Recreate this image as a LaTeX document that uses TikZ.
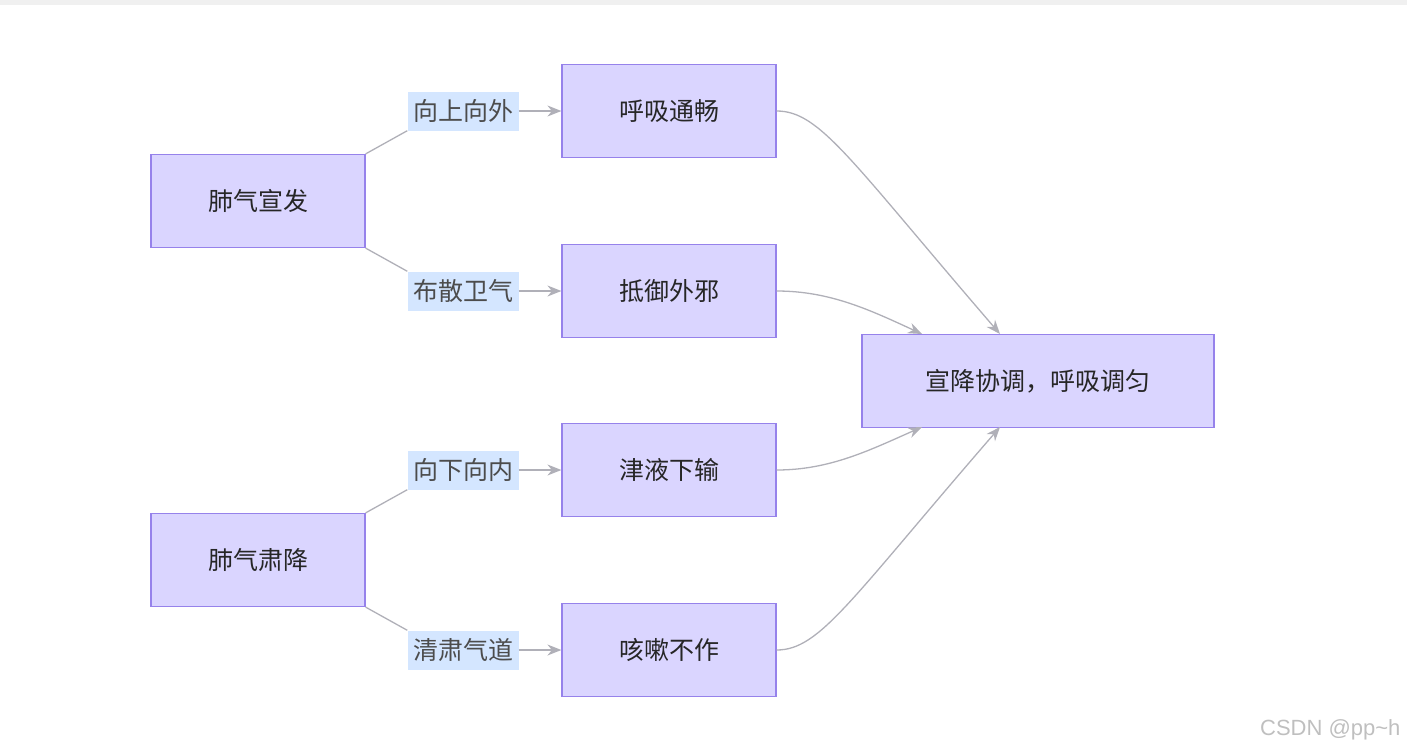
\documentclass[tikz,border=0pt]{standalone}
\usepackage{fontspec}
\setmainfont{Noto Sans CJK SC}
\newfontfamily\wmfont{Liberation Sans}
\usetikzlibrary{arrows.meta}
\definecolor{boxfill}{RGB}{218,213,255}
\definecolor{boxdraw}{RGB}{150,130,235}
\definecolor{lblbg}{RGB}{212,230,255}
\definecolor{edge}{RGB}{176,176,184}
\tikzset{
 box/.style={draw=boxdraw,fill=boxfill,line width=1.2pt,minimum width=214pt,minimum height=93pt,inner sep=0pt,font=\fontsize{25}{28}\selectfont,text=black!85},
 lbl/.style={fill=lblbg,inner sep=0pt,minimum width=111pt,minimum height=39pt,font=\fontsize{25}{28}\selectfont,text=black!70},
 con/.style={draw=edge,line width=1.3pt},
 arr/.style={con,-{Stealth[length=14pt,width=11pt]}}
}
\begin{document}
\begin{tikzpicture}[x=1pt,y=-1pt]
\useasboundingbox (0,0) rectangle (1407,755);
\fill[black!6] (0,0) rectangle (1407,5);
\node[box] (a) at (258,201) {肺气宣发};
\node[box] (b) at (258,560) {肺气肃降};
\node[box] (c1) at (669,111) {呼吸通畅};
\node[box] (c2) at (669,291) {抵御外邪};
\node[box] (c3) at (669,470) {津液下输};
\node[box] (c4) at (669,650) {咳嗽不作};
\node[box,minimum width=352pt] (d) at (1038,381) {宣降协调，呼吸调匀};
\node[lbl] (l1) at (463,111) {向上向外};
\node[lbl] (l2) at (463,291) {布散卫气};
\node[lbl] (l3) at (463,470) {向下向内};
\node[lbl] (l4) at (463,650) {清肃气道};
\draw[con] (a.north east) -- (l1.south west);
\draw[con] (a.south east) -- (l2.north west);
\draw[con] (b.north east) -- (l3.south west);
\draw[con] (b.south east) -- (l4.north west);
\draw[arr] (l1) -- (c1);
\draw[arr] (l2) -- (c2);
\draw[arr] (l3) -- (c3);
\draw[arr] (l4) -- (c4);
\coordinate (t1) at (1000,334);
\coordinate (t2) at (922,334);
\coordinate (t3) at (922,427);
\coordinate (t4) at (1000,427);
\draw[arr] (c1.east) .. controls (820,111) and (850,160) .. (t1);
\draw[arr] (c2.east) .. controls (830,291) and (870,310) .. (t2);
\draw[arr] (c3.east) .. controls (830,470) and (870,450) .. (t3);
\draw[arr] (c4.east) .. controls (820,650) and (850,600) .. (t4);
\node[anchor=east,font=\wmfont\fontsize{22}{24}\selectfont,text=black!25] (wm) at (1404,730) {CSDN @pp\textasciitilde h};
\end{tikzpicture}
\end{document}
